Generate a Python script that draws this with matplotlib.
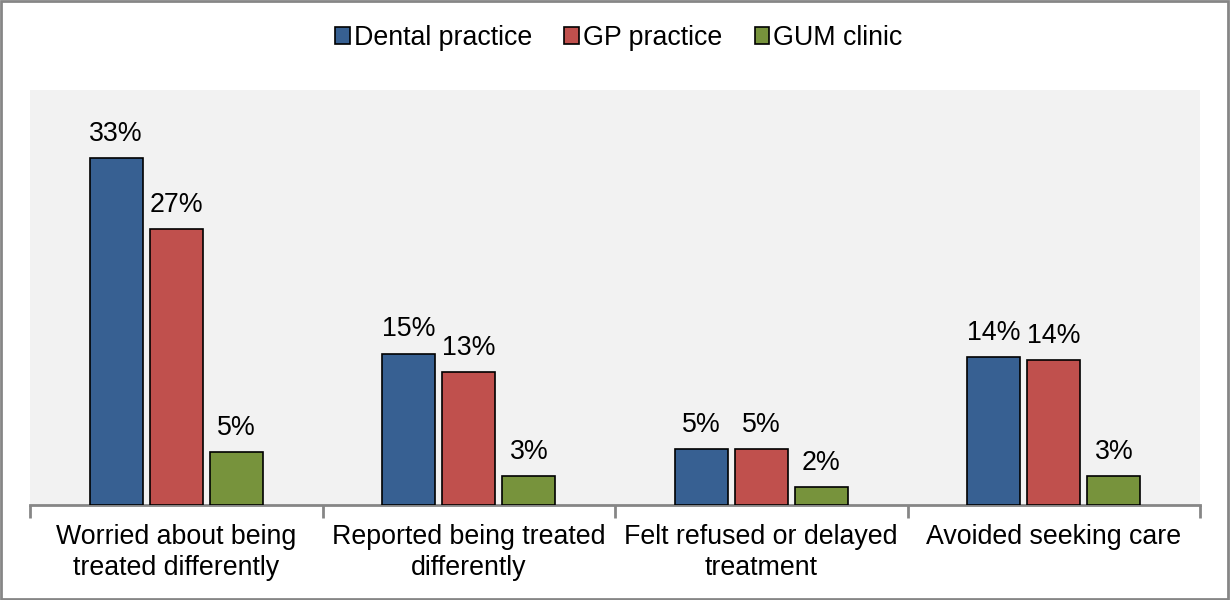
import matplotlib.pyplot as plt
import numpy as np
from matplotlib.patches import Rectangle

plt.rc("font", family=["Liberation Sans", "DejaVu Sans"], size=19.3)

categories = [
    "Worried about being\ntreated differently",
    "Reported being treated\ndifferently",
    "Felt refused or delayed\ntreatment",
    "Avoided seeking care",
]
series = ["Dental practice", "GP practice", "GUM clinic"]
dental = [33.4, 14.6, 5.4, 14.3]
gp = [26.6, 12.8, 5.4, 14.0]
gum = [5.1, 2.8, 1.7, 2.8]
labels = [
    ["33%", "15%", "5%", "14%"],
    ["27%", "13%", "5%", "14%"],
    ["5%", "3%", "2%", "3%"],
]
colors = ["#376092", "#C0504D", "#77933C"]

fig = plt.figure(figsize=(12.3, 6), dpi=100)
ax = fig.add_axes([30 / 1230, 95 / 600, 1170 / 1230, 415 / 600])
ax.set_facecolor("#F2F2F2")

x = np.arange(len(categories))
width = 53 / 292
step = 60 / 292
for i, (vals, name) in enumerate(zip([dental, gp, gum], series)):
    pos = x + (i - 1) * step
    ax.bar(pos, vals, width, color=colors[i], edgecolor="black", linewidth=1.2,
           label=name, zorder=3)
    for xp, v, t in zip(pos, vals, labels[i]):
        ax.annotate(t, (xp, v), xytext=(0, 8), textcoords="offset points",
                    ha="center", va="bottom")

ax.set_xlim(-0.5, len(categories) - 0.5)
ax.set_ylim(0, 40)
ax.set_yticks([])
for s in ["top", "right", "left"]:
    ax.spines[s].set_visible(False)
ax.spines["bottom"].set_color("#868686")
ax.spines["bottom"].set_linewidth(2)

# category labels, ticks between groups
ax.set_xticks(np.arange(-0.5, len(categories)), minor=False)
ax.set_xticklabels([])
ax.tick_params(axis="x", length=9, width=2, color="#868686", direction="out")
for xi, c in zip(x, categories):
    ax.text(xi, -0.045, c, transform=ax.get_xaxis_transform(), ha="center",
            va="top", linespacing=1.25)

handles, lbls = ax.get_legend_handles_labels()
fig.legend(handles, lbls, loc="center", bbox_to_anchor=(619 / 1230, 1 - 38 / 600),
           ncol=3, frameon=False, handlelength=0.55, handleheight=0.55,
           handletextpad=0.15, columnspacing=1.2)

fig.patches.append(Rectangle((0.001, 0.002), 0.997, 0.996, transform=fig.transFigure,
                             fill=False, edgecolor="#868686", linewidth=2))

fig.savefig("out.png", dpi=100, facecolor="white")
